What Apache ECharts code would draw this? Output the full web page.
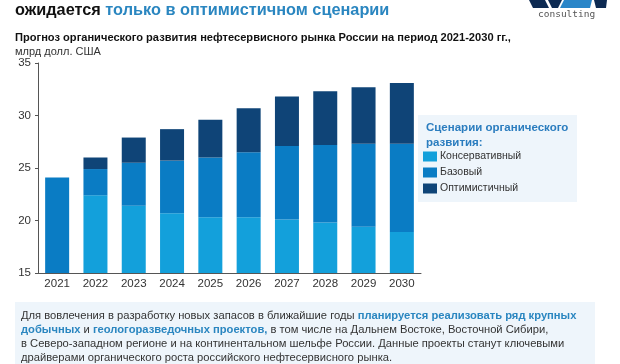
<!DOCTYPE html>
<html>
<head>
<meta charset="utf-8">
<script src="https://cdn.jsdelivr.net/npm/echarts@6/dist/echarts.min.js"></script>
<style>html,body{margin:0;padding:0;background:#fff}#c{width:620px;height:364px}</style>
</head>
<body>
<div id="c"></div>
<script>
var years = ['2021','2022','2023','2024','2025','2026','2027','2028','2029','2030'];
var conservative = [null, 22.4, 21.4, 20.7, 20.3, 20.3, 20.1, 19.8, 19.4, 18.9];
var base = [24.1, 2.5, 4.1, 5.0, 5.7, 6.2, 7.0, 7.4, 7.9, 8.4];
var optimistic = [null, 1.1, 2.4, 3.0, 3.6, 4.2, 4.7, 5.1, 5.4, 5.8];
var totalLabels = ['24','26','28','29','30','31','32','32','33','33'];
var yTicks = [15, 20, 25, 30, 35];
var seriesNames = ['Консервативный', 'Базовый', 'Оптимистичный'];

var FF = '"Liberation Sans", Arial, sans-serif';
var totals = years.map(function (y, i) {
  return (conservative[i] || 0) + (base[i] || 0) + (optimistic[i] || 0);
});

var chart = echarts.init(document.getElementById('c'), null, {renderer: 'canvas'});
var colors = ['#13a0db', '#0a7cc4', '#0f4477'];

var paraLines = [
  [['n','Для вовлечения в разработку новых запасов в ближайшие годы '],['b','планируется реализовать ряд крупных']],
  [['b','добычных'],['n',' и '],['b','геологоразведочных проектов,'],['n',' в том числе на Дальнем Востоке, Восточной Сибири,']],
  [['n','в Северо-западном регионе и на континентальном шельфе России. Данные проекты станут ключевыми']],
  [['n','драйверами органического роста российского нефтесервисного рынка.']]
];

var graphics = [
  {type:'rect', shape:{x:418,y:115,width:159,height:87}, style:{fill:'#eef5fb'}, z:-1},
  {type:'text', left:426, top:121, style:{text:'Сценарии органического\nразвития:', font:'bold 11.5px '+FF, fill:'#2b7dbf', lineHeight:14.5}},
  {type:'rect', shape:{x:15,y:302,width:580,height:70}, style:{fill:'#eef5fb'}, z:-1},
  {type:'text', left:15, top:3, style:{
    text:'{a|ожидается }{b|только в оптимистичном сценарии}',
    rich:{a:{font:'bold 16.3px '+FF, fill:'#111'}, b:{font:'bold 16.3px '+FF, fill:'#2a86c0'}}
  }},
  {type:'text', left:15, top:32, style:{text:'Прогноз органического развития нефтесервисного рынка России на период 2021-2030 гг.,', font:'bold 11.1px '+FF, fill:'#111'}},
  {type:'text', left:15, top:46, style:{text:'млрд долл. США', font:'11px '+FF, fill:'#333'}},
  {type:'polygon', shape:{points:[[529,0],[545,0],[549,8],[533,8]]}, style:{fill:'#0d2a52'}},
  {type:'polygon', shape:{points:[[548,0],[562,0],[558,8],[552,8]]}, style:{fill:'#0d2a52'}},
  {type:'polygon', shape:{points:[[564,0],[592,0],[590,8],[560,8]]}, style:{fill:'#2a86c8'}},
  {type:'polygon', shape:{points:[[594,0],[607,0],[606,8],[596,8]]}, style:{fill:'#0d2a52'}},
  {type:'text', left:538, top:10, style:{text:'consulting', font:'9.5px "DejaVu Sans Mono", monospace', fill:'#555'}}
];
paraLines.forEach(function (segs, i) {
  var txt = segs.map(function (s) { return '{' + s[0] + '|' + s[1].replace(/[{}|]/g,'') + '}'; }).join('');
  graphics.push({type:'text', left:21, top:310 + i*14, style:{
    text: txt,
    rich:{n:{font:'11.2px '+FF, fill:'#333'}, b:{font:'bold 11.2px '+FF, fill:'#2a86c0'}}
  }});
});

var option = {
  animation:false,
  textStyle:{fontFamily:FF},
  grid:{left:38, right:199, top:63, bottom:91, containLabel:false},
  legend:{
    data:seriesNames, orient:'vertical', left:423, top:151, padding:0, itemWidth:14, itemHeight:10, itemGap:5,
    icon:'rect', textStyle:{fontSize:10.5, color:'#333', fontFamily:FF, padding:[0,0,0,-2]}, selectedMode:false
  },
  xAxis:{
    type:'category', data:years,
    axisLine:{lineStyle:{color:'#555'}}, axisTick:{show:false},
    axisLabel:{fontSize:11.5, color:'#333', margin:5, fontFamily:FF}
  },
  yAxis:{
    type:'value', min:yTicks[0], max:yTicks[yTicks.length-1], interval:5,
    axisLine:{show:true, lineStyle:{color:'#555'}}, axisTick:{show:true, length:3, lineStyle:{color:'#555'}},
    splitLine:{show:false},
    axisLabel:{fontSize:11.5, color:'#333', margin:7, fontFamily:FF}
  },
  series:[
    {name:seriesNames[0], type:'bar', stack:'s', data:conservative, barWidth:24, itemStyle:{color:colors[0]}},
    {name:seriesNames[1], type:'bar', stack:'s', data:base, barWidth:24, itemStyle:{color:colors[1]}},
    {name:seriesNames[2], type:'bar', stack:'s', data:optimistic, barWidth:24, itemStyle:{color:colors[2]}},
    {name:'total', type:'line', data:totals, symbol:'none', lineStyle:{opacity:0}, silent:true,
     label:{show:true, position:'top', distance:3, fontSize:13.5, color:'#333', fontFamily:FF,
       formatter:function(p){return totalLabels[p.dataIndex];}}}
  ],
  graphic:graphics
};
chart.setOption(option);
</script>
</body>
</html>
